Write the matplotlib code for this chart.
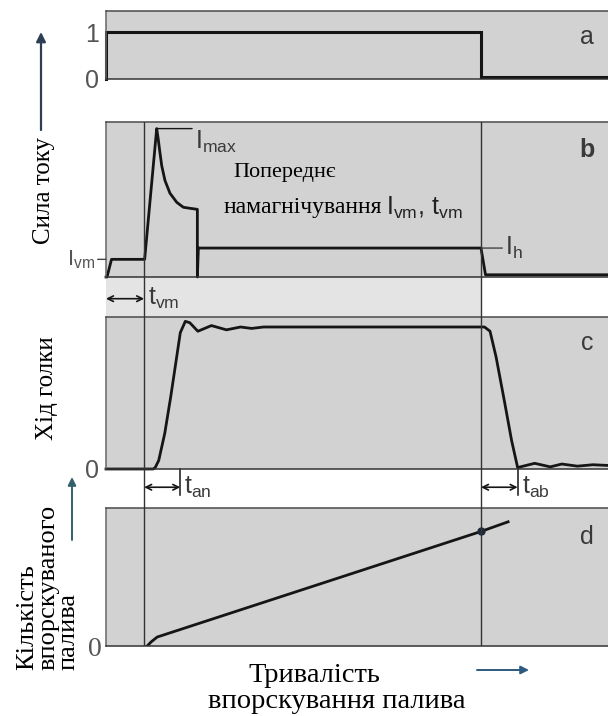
import numpy as np
import matplotlib
matplotlib.use('Agg')
import matplotlib.pyplot as plt
from matplotlib.patches import FancyArrowPatch, Rectangle

plt.rcParams['font.family'] = ['Liberation Serif', 'DejaVu Serif']
plt.rcParams['mathtext.fontset'] = 'custom'
plt.rcParams['mathtext.rm'] = 'Liberation Sans'
plt.rcParams['mathtext.it'] = 'Liberation Sans:italic'

# час (умовні одиниці 0..100)
t_vm = 7.6      # кінець попереднього намагнічування
t_end = 74.7    # кінець керуючого сигналу
t_an = 14.8     # повне відкриття
t_ab = 82.0     # повне закриття

# a - керуючий сигнал
sig_t = [0, 0, 74.7, 74.7, 100]
sig_v = [0, 1, 1, 0.04, 0.04]

# b - сила току
cur_t = [0, 0.2, 1.1, 7.7, 10.1, 10.4, 10.7, 11.1, 11.75, 12.75, 14.1, 15.4, 16.7,
         18.2, 18.2, 18.4, 74.7, 75.6, 100]
cur_i = [0, 0, 1.19, 1.19, 10, 9.3, 8.5, 7.5, 6.5, 5.64, 5.03, 4.7, 4.63,
         4.56, 0, 1.95, 1.95, 0.15, 0.15]
I_vm = 1.19
I_max = 10
I_h = 1.95

# c - хід голки
lift_t = [0, 9.4, 9.8, 10.5, 11.7, 12.9, 14.0, 14.8, 15.8, 16.7, 18.3, 21.0, 24.0,
          26.8, 29.0, 31.4, 75.4, 76.5, 77.7, 79.3, 80.8, 82.0, 83.1, 85.4, 88.5,
          90.8, 93.9, 97.0, 100]
lift_v = [0, 0, 0.01, 0.06, 0.25, 0.51, 0.77, 0.96, 1.04, 1.03, 0.97, 1.01, 0.98,
          1.0, 0.99, 1.0, 1.0, 0.97, 0.79, 0.49, 0.2, 0.01, 0.02, 0.04, 0.015,
          0.035, 0.02, 0.03, 0.025]

# d - кількість впорскуваного палива
q_t = [8.2, 9.0, 10.2, 74.7, 80.1]
q_v = [0, 0.03, 0.065, 0.83, 0.9]

W, H = 608, 716
fig = plt.figure(figsize=(W / 100, H / 100), dpi=100)
fig.patch.set_facecolor('white')

grey = '#d2d2d2'
ink = '#151515'
lab = '#3a3a3a'
sans = 'Liberation Sans'


def panel(top, bottom):
    ax = fig.add_axes([106 / W, 1 - bottom / H, 502 / W, (bottom - top) / H])
    ax.set_facecolor(grey)
    ax.set_xlim(0, 100)
    ax.set_xticks([])
    ax.set_yticks([])
    ax.spines['right'].set_visible(False)
    ax.spines['top'].set_color('#4a4a4a')
    ax.spines['left'].set_color('#666666')
    ax.spines['bottom'].set_color('#333333')
    for s in ax.spines.values():
        s.set_linewidth(1.1)
    return ax


def ftext(x, y, s, **kw):
    # текст у піксельних координатах зображення
    return fig.text(x / W, 1 - y / H, s, zorder=10, **kw)


# фон для стрілок та світлої смуги
bg = fig.add_axes([0, 0, 1, 1], zorder=-5)
bg.set_xlim(0, W)
bg.set_ylim(H, 0)
bg.axis('off')
bg.add_patch(Rectangle((106, 277), 375, 40, color='#e4e4e4', lw=0))

ax_a = panel(11, 79)
ax_b = panel(122, 277)
ax_c = panel(317, 469)
ax_d = panel(508, 646)

# a
ax_a.plot(sig_t, sig_v, color=ink, lw=2.2, clip_on=False, solid_joinstyle='miter')
ax_a.set_ylim(0, 68 / 47)
ax_a.set_yticks([0, 1])
ax_a.set_yticklabels(['0', '1'], fontfamily=sans, fontsize=18, color='#555555')
ax_a.tick_params(axis='y', length=0, pad=5)
ax_a.text(0.958, 0.62, 'a', transform=ax_a.transAxes, ha='center', va='center',
          fontfamily=sans, fontsize=18, color=lab)

# b
ax_b.plot(cur_t, cur_i, color=ink, lw=2.0, clip_on=False)
ax_b.set_ylim(0, 155 / 14.84)
ax_b.text(0.958, 0.82, 'b', transform=ax_b.transAxes, ha='center', va='center',
          fontfamily=sans, fontsize=18, color=lab, fontweight='bold')
ax_b.annotate(r'$\mathrm{I_{max}}$', xy=(10.1, I_max), xytext=(17.7, I_max),
              ha='left', va='top', fontsize=18, color=lab,
              arrowprops=dict(arrowstyle='-', color=ink, lw=1.0, relpos=(0, 1),
                              shrinkA=0, shrinkB=0))
ax_b.annotate(r'$\mathrm{I_{h}}$', xy=(t_end, I_h), xytext=(79.5, I_h),
              ha='left', va='center', fontsize=18, color=lab, annotation_clip=False,
              arrowprops=dict(arrowstyle='-', color='#444444', lw=1.0,
                              shrinkA=0, shrinkB=0))
ax_b.annotate(r'$\mathrm{I_{vm}}$', xy=(0, I_vm), xytext=(-8, 0),
              textcoords='offset points', ha='right', va='center', fontsize=16,
              color='#555555', annotation_clip=False,
              arrowprops=dict(arrowstyle='-', color='#444444', lw=1.0,
                              shrinkA=0, shrinkB=0))
ax_b.annotate('', xy=(0, -0.14), xytext=(t_vm, -0.14),
              xycoords=('data', 'axes fraction'), textcoords=('data', 'axes fraction'),
              arrowprops=dict(arrowstyle='<->', color=ink, lw=1.2,
                              shrinkA=0, shrinkB=0, mutation_scale=10))
ax_b.text(t_vm + 0.8, -0.14, r'$\mathrm{t_{vm}}$', transform=ax_b.get_xaxis_transform(),
          ha='left', va='center', fontsize=18, color=lab)

# c
ax_c.plot(lift_t, lift_v, color=ink, lw=2.0, clip_on=False)
ax_c.set_ylim(0, 152 / 142)
ax_c.set_yticks([0])
ax_c.set_yticklabels(['0'], fontfamily=sans, fontsize=18, color='#555555')
ax_c.tick_params(axis='y', length=0, pad=5)
ax_c.text(0.958, 0.83, 'c', transform=ax_c.transAxes, ha='center', va='center',
          fontfamily=sans, fontsize=18, color=lab)
xt = ax_c.get_xaxis_transform()
for a, b in [(t_vm, t_an), (t_end, t_ab)]:
    ax_c.plot([b, b], [0, -0.17], transform=xt, color=ink, lw=1.1, clip_on=False)
    ax_c.annotate('', xy=(a, -0.12), xytext=(b, -0.12), xycoords=xt, textcoords=xt,
                  arrowprops=dict(arrowstyle='<->', color=ink, lw=1.2,
                                  shrinkA=0, shrinkB=0, mutation_scale=10))
ax_c.text(t_an + 0.8, -0.12, r'$\mathrm{t_{an}}$', transform=xt,
          ha='left', va='center', fontsize=18, color=lab)
ax_c.text(t_ab + 0.8, -0.12, r'$\mathrm{t_{ab}}$', transform=xt,
          ha='left', va='center', fontsize=18, color=lab)

# d
ax_d.plot(q_t, q_v, color=ink, lw=2.0)
ax_d.plot([q_t[3]], [q_v[3]], 'o', color='#1d2a3a', ms=5)
ax_d.set_ylim(0, 1)
ax_d.set_yticks([0])
ax_d.set_yticklabels(['0'], fontfamily='Liberation Serif', fontsize=20, color='#555555')
ax_d.tick_params(axis='y', length=0, pad=3)
ax_d.text(0.958, 0.79, 'd', transform=ax_d.transAxes, ha='center', va='center',
          fontfamily=sans, fontsize=18, color=lab)

# вертикальні лінії через панелі b-d
ov = fig.add_axes([106 / W, 1 - 646 / H, 502 / W, (646 - 122) / H], zorder=5)
ov.set_xlim(0, 100)
ov.patch.set_alpha(0)
ov.axis('off')
for tv in (t_vm, t_end):
    ov.axvline(tv, color='#333333', lw=1.0)

# підписи
ftext(233, 173, 'Попереднє', ha='left', va='center', fontsize=16)
ftext(224, 207, 'намагнічування', ha='left', va='center', fontsize=17)
ftext(386, 208, r'$\mathrm{I_{vm},\,t_{vm}}$', ha='left', va='center',
      fontsize=18, color='#222222')
ftext(44, 191, 'Сила току', rotation=90, ha='center', va='center', fontsize=18)
ftext(47, 388, 'Хід голки', rotation=90, ha='center', va='center', fontsize=18)
ftext(48, 670, 'Кількість\nвпорскуваного\nпалива', rotation=90, ha='center',
      va='bottom', multialignment='left', linespacing=0.9, fontsize=19)
ftext(314, 676, 'Тривалість', ha='center', va='center', fontsize=20.5)
ftext(337, 702, 'впорскування палива', ha='center', va='center', fontsize=20.5)

bg.add_patch(FancyArrowPatch((41, 130), (41, 32), arrowstyle='-|>', color='#2c3f55',
                             lw=1.6, mutation_scale=14, shrinkA=0, shrinkB=0))
bg.add_patch(FancyArrowPatch((72, 540), (72, 477), arrowstyle='-|>', color='#34606c',
                             lw=1.4, mutation_scale=12, shrinkA=0, shrinkB=0))
bg.add_patch(FancyArrowPatch((477, 670), (529, 670), arrowstyle='-|>', color='#2d5a80',
                             lw=1.4, mutation_scale=12, shrinkA=0, shrinkB=0))

fig.savefig('out.png', dpi=100)
